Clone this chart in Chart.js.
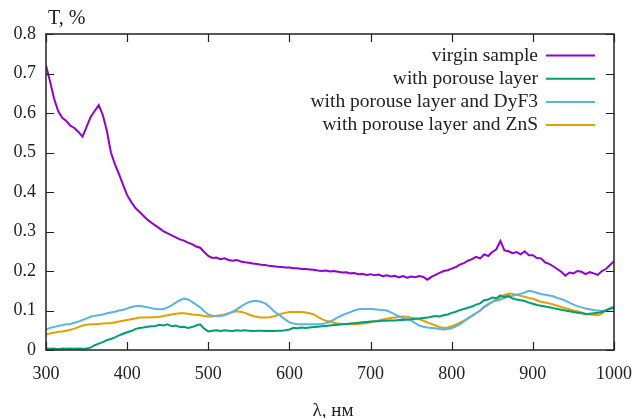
<!DOCTYPE html>
<html>
<head>
<meta charset="utf-8">
<script src="https://cdn.jsdelivr.net/npm/chart.js@4.4.1/dist/chart.umd.min.js"></script>
<style>
html,body{margin:0;padding:0;background:#fff;}
#wrap{width:637px;height:418px;}
</style>
</head>
<body>
<div id="wrap"><canvas id="c" width="637" height="418"></canvas></div>
<script>
const wavelengths = [300,305,310,315,320,325,330,335,340,345,350,355,360,365,370,375,380,385,390,395,
400,405,410,415,420,425,430,435,440,445,450,455,460,465,470,475,480,485,490,495,
500,505,510,515,520,525,530,535,540,545,550,555,560,565,570,575,580,585,590,595,
600,605,610,615,620,625,630,635,640,645,650,655,660,665,670,675,680,685,690,695,
700,705,710,715,720,725,730,735,740,745,750,755,760,765,770,775,780,785,790,795,
800,805,810,815,820,825,830,835,840,845,850,855,860,865,870,875,880,885,890,895,
900,905,910,915,920,925,930,935,940,945,950,955,960,965,970,975,980,985,990,995,1000];

const virginSample = [0.720,0.680,0.636,0.605,0.588,0.580,0.568,0.562,0.552,0.540,0.565,0.590,0.605,0.620,0.595,0.555,0.500,0.470,0.445,0.418,
0.392,0.375,0.360,0.350,0.340,0.330,0.322,0.315,0.308,0.300,0.295,0.290,0.285,0.280,0.277,0.272,0.268,0.262,0.259,0.248,
0.238,0.233,0.234,0.230,0.232,0.228,0.226,0.228,0.224,0.222,0.221,0.219,0.218,0.216,0.215,0.213,0.212,0.211,0.210,0.209,
0.209,0.207,0.207,0.205,0.205,0.204,0.203,0.201,0.200,0.201,0.199,0.200,0.198,0.196,0.197,0.194,0.195,0.192,0.193,0.190,
0.192,0.189,0.191,0.187,0.189,0.186,0.188,0.184,0.187,0.183,0.186,0.184,0.187,0.185,0.178,0.185,0.190,0.195,0.200,0.202,
0.206,0.210,0.216,0.220,0.226,0.230,0.236,0.232,0.242,0.238,0.248,0.255,0.276,0.252,0.250,0.245,0.248,0.242,0.250,0.240,
0.240,0.233,0.232,0.222,0.218,0.212,0.205,0.198,0.188,0.196,0.194,0.200,0.198,0.192,0.197,0.194,0.190,0.200,0.205,0.215,0.225];

const porousLayer = [0.004,0.003,0.004,0.002,0.004,0.003,0.004,0.003,0.004,0.003,0.004,0.006,0.012,0.016,0.020,0.025,0.028,0.032,0.037,0.041,
0.045,0.048,0.053,0.056,0.057,0.059,0.060,0.061,0.064,0.062,0.065,0.060,0.062,0.058,0.059,0.056,0.058,0.062,0.065,0.054,
0.047,0.049,0.050,0.048,0.050,0.049,0.048,0.050,0.049,0.050,0.049,0.048,0.049,0.049,0.048,0.049,0.048,0.049,0.049,0.050,
0.052,0.056,0.055,0.057,0.056,0.057,0.058,0.059,0.060,0.061,0.062,0.063,0.064,0.065,0.066,0.067,0.068,0.069,0.070,0.071,
0.072,0.073,0.073,0.074,0.074,0.075,0.075,0.076,0.076,0.077,0.078,0.079,0.080,0.081,0.082,0.084,0.086,0.085,0.088,0.090,
0.094,0.097,0.101,0.104,0.107,0.110,0.115,0.118,0.126,0.128,0.133,0.131,0.138,0.134,0.137,0.130,0.128,0.126,0.124,0.120,
0.117,0.114,0.112,0.110,0.108,0.106,0.104,0.102,0.100,0.098,0.096,0.094,0.093,0.091,0.092,0.093,0.094,0.096,0.100,0.104,0.107];

const porousDyF3 = [0.052,0.056,0.058,0.061,0.063,0.065,0.066,0.069,0.072,0.076,0.080,0.084,0.087,0.088,0.090,0.093,0.095,0.097,0.100,0.102,
0.105,0.109,0.111,0.112,0.110,0.108,0.106,0.104,0.103,0.104,0.108,0.113,0.120,0.126,0.130,0.128,0.122,0.115,0.108,0.098,
0.090,0.087,0.086,0.086,0.088,0.092,0.097,0.103,0.110,0.116,0.121,0.124,0.124,0.122,0.118,0.110,0.100,0.092,0.085,0.077,
0.070,0.067,0.065,0.065,0.065,0.065,0.065,0.065,0.066,0.068,0.072,0.077,0.083,0.088,0.092,0.096,0.100,0.103,0.104,0.104,
0.104,0.103,0.102,0.101,0.100,0.095,0.090,0.085,0.080,0.077,0.075,0.068,0.062,0.059,0.057,0.056,0.055,0.053,0.052,0.053,
0.055,0.060,0.065,0.072,0.080,0.087,0.093,0.100,0.110,0.116,0.122,0.125,0.128,0.132,0.135,0.137,0.140,0.142,0.146,0.150,
0.148,0.145,0.142,0.140,0.138,0.136,0.132,0.129,0.125,0.120,0.115,0.111,0.108,0.105,0.103,0.101,0.100,0.099,0.100,0.106,0.110];

const porousZnS = [0.039,0.042,0.044,0.046,0.047,0.049,0.051,0.054,0.058,0.062,0.064,0.065,0.065,0.066,0.067,0.068,0.068,0.070,0.072,0.074,
0.076,0.078,0.080,0.082,0.082,0.082,0.083,0.083,0.084,0.086,0.088,0.090,0.092,0.093,0.093,0.092,0.090,0.089,0.088,0.086,
0.085,0.085,0.087,0.088,0.090,0.093,0.096,0.098,0.097,0.094,0.090,0.086,0.084,0.082,0.082,0.083,0.085,0.088,0.092,0.094,
0.096,0.096,0.096,0.096,0.095,0.093,0.090,0.084,0.078,0.074,0.072,0.069,0.067,0.066,0.065,0.065,0.065,0.066,0.067,0.068,
0.070,0.072,0.075,0.077,0.079,0.081,0.082,0.084,0.085,0.084,0.082,0.080,0.078,0.074,0.070,0.066,0.062,0.058,0.056,0.057,
0.060,0.064,0.069,0.074,0.080,0.086,0.093,0.100,0.108,0.115,0.122,0.128,0.134,0.139,0.143,0.142,0.140,0.137,0.135,0.132,
0.130,0.126,0.122,0.120,0.118,0.115,0.112,0.109,0.106,0.103,0.100,0.098,0.095,0.092,0.090,0.089,0.088,0.092,0.100,0.106,0.110];

const seriesLabels = ['virgin sample','with porouse layer','with porouse layer and DyF3','with porouse layer and ZnS'];
const seriesColors = ['#9400d3','#009e73','#56b4e9','#e69f00'];
const xTicks = [300,400,500,600,700,800,900,1000];
const yTicks = [0,0.1,0.2,0.3,0.4,0.5,0.6,0.7,0.8];
const yTitle = 'T, %';
const xTitle = 'λ, нм';

const allSeries = [virginSample, porousLayer, porousDyF3, porousZnS];
const FONT = '"Liberation Serif", "Times New Roman", serif';
const INK = '#222';

const datasets = allSeries.map((vals, i) => ({
  label: seriesLabels[i],
  data: wavelengths.map((w, j) => ({x: w, y: vals[j]})),
  borderColor: seriesColors[i],
  borderWidth: 2,
  pointRadius: 0,
  tension: 0,
  fill: false
}));

const framePlugin = {
  id: 'frame',
  afterDatasetsDraw(chart) {
    const ctx = chart.ctx, a = chart.chartArea;
    const xs = chart.scales.x, ys = chart.scales.y;
    ctx.save();
    ctx.strokeStyle = INK;
    ctx.lineWidth = 1.5;
    ctx.strokeRect(a.left, a.top, a.right - a.left, a.bottom - a.top);
    const L = 8;
    ctx.lineWidth = 1.2;
    ctx.beginPath();
    xTicks.forEach(v => {
      const px = Math.round(xs.getPixelForValue(v)) + 0.5;
      ctx.moveTo(px, a.bottom); ctx.lineTo(px, a.bottom - L);
      ctx.moveTo(px, a.top); ctx.lineTo(px, a.top + L);
    });
    yTicks.forEach(v => {
      const py = Math.round(ys.getPixelForValue(v)) + 0.5;
      ctx.moveTo(a.left, py); ctx.lineTo(a.left + L, py);
      ctx.moveTo(a.right, py); ctx.lineTo(a.right - L, py);
    });
    ctx.stroke();
    ctx.restore();
  },
  afterDraw(chart) {
    const ctx = chart.ctx;
    ctx.save();
    ctx.fillStyle = INK;
    ctx.textBaseline = 'middle';
    ctx.font = '20px ' + FONT;
    ctx.textAlign = 'left';
    ctx.fillText(yTitle, 48, 19);
    ctx.font = '19px ' + FONT;
    ctx.textAlign = 'center';
    ctx.fillText(xTitle, 333, 411);
    // legend
    ctx.font = '19.5px ' + FONT;
    ctx.textAlign = 'right';
    chart.data.datasets.forEach((ds, i) => {
      const y = 55.5 + i * 23.2;
      ctx.fillStyle = INK;
      ctx.fillText(ds.label, 538, y);
      ctx.strokeStyle = ds.borderColor;
      ctx.lineWidth = 2;
      ctx.beginPath();
      ctx.moveTo(546, y); ctx.lineTo(595, y);
      ctx.stroke();
    });
    ctx.restore();
  }
};

new Chart(document.getElementById('c'), {
  type: 'line',
  data: { datasets },
  options: {
    responsive: false,
    animation: false,
    events: [],
    layout: { padding: { top: 34, right: 23, left: 0, bottom: 0 } },
    plugins: { legend: { display: false }, tooltip: { enabled: false } },
    scales: {
      x: {
        type: 'linear', min: 300, max: 1000,
        grid: { display: false, drawTicks: false },
        border: { display: false },
        afterBuildTicks(s) { s.ticks = xTicks.map(v => ({value: v})); },
        afterFit(s) { s.height = 68; s.paddingLeft = 0; s.paddingRight = 0; },
        ticks: { color: INK, font: { family: FONT, size: 18 }, padding: 13, maxRotation: 0, autoSkip: false,
          callback: v => String(v) }
      },
      y: {
        type: 'linear', min: 0, max: 0.8,
        grid: { display: false, drawTicks: false },
        border: { display: false },
        afterBuildTicks(s) { s.ticks = yTicks.map(v => ({value: v})); },
        afterFit(s) { s.width = 46; s.paddingTop = 0; s.paddingBottom = 0; },
        ticks: { color: INK, font: { family: FONT, size: 18 }, padding: 10,
          callback: v => (v === 0 ? '0' : v.toFixed(1)) }
      }
    }
  },
  plugins: [framePlugin]
});
</script>
</body>
</html>
